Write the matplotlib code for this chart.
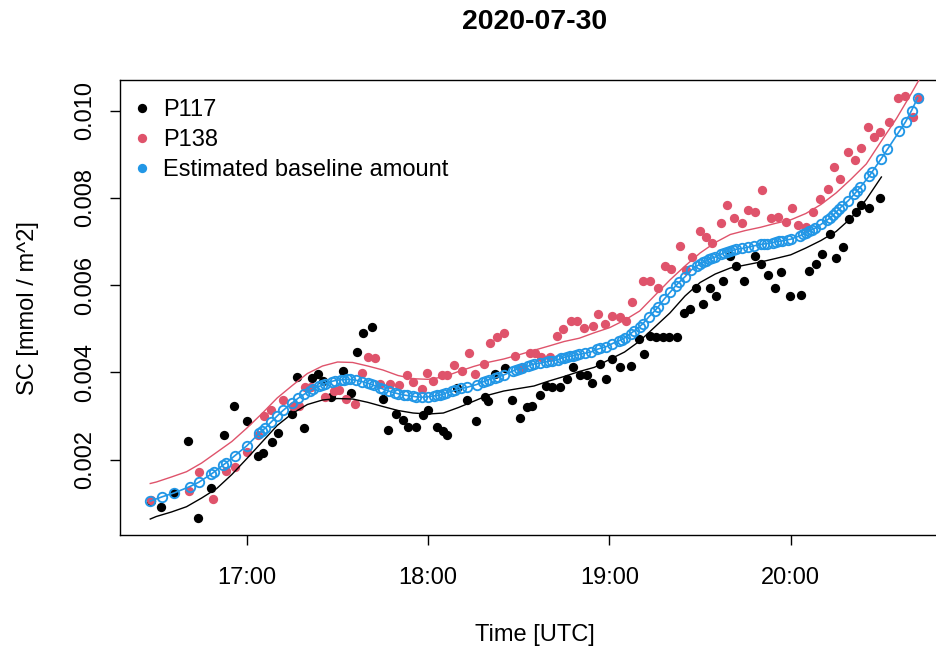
import matplotlib
matplotlib.use("Agg")
import matplotlib.pyplot as plt
import matplotlib.dates as mdates
from matplotlib.lines import Line2D
import pandas as pd

DAY = "2020-07-30"

# station P117 observations
p117_time = [
    "16:28:08", "16:31:32", "16:35:51", "16:40:38", "16:43:53", "16:48:05", "16:52:23", "16:55:42",
    "16:59:54", "17:03:44", "17:05:17", "17:08:22", "17:10:22", "17:14:47", "17:16:43", "17:18:56",
    "17:21:40", "17:23:35", "17:25:09", "17:27:44", "17:31:52", "17:34:19", "17:36:18", "17:38:17",
    "17:41:16", "17:44:54", "17:46:45", "17:49:28", "17:51:31", "17:53:22", "17:55:55", "17:58:20",
    "17:59:59", "18:02:46", "18:04:57", "18:06:17", "18:09:23", "18:12:53", "18:15:46", "18:18:45",
    "18:19:50", "18:22:04", "18:25:22", "18:27:51", "18:30:20", "18:32:33", "18:34:12", "18:36:57",
    "18:38:50", "18:41:05", "18:43:34", "18:46:03", "18:47:46", "18:50:11", "18:52:30", "18:54:04",
    "18:56:58", "18:58:47", "19:01:00", "19:03:31", "19:07:10", "19:09:38", "19:11:26", "19:13:15",
    "19:15:26", "19:17:39", "19:19:48", "19:22:23", "19:24:36", "19:26:35", "19:28:40", "19:30:59",
    "19:33:26", "19:35:11", "19:37:36", "19:39:49", "19:41:48", "19:44:27", "19:48:19", "19:50:04",
    "19:52:29", "19:54:56", "19:56:41", "19:59:40", "20:03:32", "20:06:04", "20:08:16", "20:10:22",
    "20:12:55", "20:15:07", "20:17:13", "20:19:25", "20:21:31", "20:23:24", "20:26:02", "20:29:37",
]
p117_sc = [
    0.001063, 0.000920, 0.001235, 0.002420, 0.000669, 0.001357, 0.002571, 0.003229, 0.002885, 0.002076,
    0.002156, 0.002397, 0.002610, 0.003041, 0.003893, 0.002736, 0.003877, 0.003957, 0.003800, 0.003430,
    0.004031, 0.003520, 0.004473, 0.004895, 0.005046, 0.003382, 0.002679, 0.003045, 0.002908, 0.002741,
    0.002741, 0.003022, 0.003137, 0.002741, 0.002663, 0.002564, 0.003634, 0.003366, 0.002885, 0.003428,
    0.003350, 0.003962, 0.004111, 0.003355, 0.002958, 0.003213, 0.003233, 0.003481, 0.003694, 0.003671,
    0.003657, 0.003854, 0.004122, 0.003932, 0.003939, 0.003749, 0.004191, 0.003847, 0.004299, 0.004129,
    0.004152, 0.004757, 0.004420, 0.004840, 0.004803, 0.004803, 0.004817, 0.004817, 0.005367, 0.005447,
    0.005944, 0.005573, 0.005926, 0.005756, 0.006098, 0.006666, 0.006441, 0.006098, 0.006666, 0.006483,
    0.006231, 0.005926, 0.006306, 0.005756, 0.005765, 0.006329, 0.006476, 0.006707, 0.007165, 0.006613,
    0.006872, 0.007509, 0.007663, 0.007835, 0.007773, 0.008002,
]

# station P138 observations
p138_time = [
    "16:28:08", "16:40:43", "16:44:07", "16:48:39", "16:52:57", "16:56:02", "17:00:06", "17:03:32",
    "17:05:32", "17:07:53", "17:12:01", "17:15:19", "17:17:13", "17:19:11", "17:21:11", "17:25:58",
    "17:28:47", "17:30:37", "17:32:46", "17:35:44", "17:37:57", "17:40:08", "17:42:27", "17:44:01",
    "17:47:19", "17:50:17", "17:53:02", "17:55:02", "17:57:49", "17:59:40", "18:01:38", "18:04:25",
    "18:06:11", "18:08:29", "18:11:08", "18:13:22", "18:15:37", "18:18:19", "18:20:19", "18:22:37",
    "18:25:12", "18:28:47", "18:30:53", "18:33:32", "18:35:28", "18:37:23", "18:40:16", "18:42:34",
    "18:44:34", "18:47:07", "18:49:11", "18:51:37", "18:54:29", "18:56:22", "18:58:41", "19:01:00",
    "19:03:25", "19:05:20", "19:07:37", "19:11:08", "19:13:15", "19:16:06", "19:18:28", "19:20:14",
    "19:23:16", "19:25:25", "19:27:28", "19:30:07", "19:32:07", "19:34:05", "19:37:04", "19:39:04",
    "19:41:14", "19:43:47", "19:45:52", "19:48:05", "19:50:38", "19:53:37", "19:55:48", "19:58:35",
    "20:00:30", "20:02:33", "20:05:12", "20:07:23", "20:09:36", "20:12:20", "20:14:23", "20:16:23",
    "20:18:58", "20:21:11", "20:23:16", "20:25:43", "20:27:28", "20:29:37", "20:32:22", "20:35:38",
    "20:37:53", "20:40:28", "20:42:31",
]
p138_sc = [
    0.001075, 0.001276, 0.001723, 0.001093, 0.001746, 0.001838, 0.002170, 0.002564, 0.003000, 0.003130,
    0.003355, 0.003229, 0.003240, 0.003657, 0.003653, 0.003446, 0.003584, 0.003607, 0.003378, 0.003274,
    0.003992, 0.004358, 0.004340, 0.003733, 0.003733, 0.003721, 0.003939, 0.003786, 0.003611, 0.003978,
    0.003797, 0.003928, 0.003950, 0.004168, 0.004038, 0.004436, 0.003969, 0.004180, 0.004672, 0.004810,
    0.004913, 0.004374, 0.004093, 0.004436, 0.004450, 0.004358, 0.004345, 0.004833, 0.004989, 0.005176,
    0.005176, 0.005009, 0.005062, 0.005330, 0.005108, 0.005291, 0.005275, 0.005176, 0.005619, 0.006100,
    0.006100, 0.005926, 0.006441, 0.006368, 0.006895, 0.006345, 0.006632, 0.007232, 0.007094, 0.006964,
    0.007429, 0.007828, 0.007537, 0.007429, 0.007720, 0.007674, 0.008185, 0.007548, 0.007566, 0.007452,
    0.007766, 0.007376, 0.007337, 0.007663, 0.007965, 0.008197, 0.008705, 0.008426, 0.009060, 0.008877,
    0.009141, 0.009622, 0.009400, 0.009503, 0.009743, 0.010280, 0.010321, 0.009844, 0.010286,
]

# estimated baseline at the observation epochs
baseline_time = [
    "16:28", "16:32", "16:36", "16:41", "16:44", "16:48", "16:49", "16:52", "16:53", "16:56",
    "17:00", "17:04", "17:05", "17:06", "17:08", "17:10", "17:12", "17:15", "17:17", "17:19",
    "17:21", "17:22", "17:24", "17:25", "17:26", "17:28", "17:29", "17:31", "17:32", "17:33",
    "17:34", "17:36", "17:38", "17:40", "17:41", "17:42", "17:44", "17:45", "17:47", "17:49",
    "17:50", "17:52", "17:53", "17:55", "17:56", "17:58", "18:00", "18:02", "18:03", "18:04",
    "18:05", "18:06", "18:08", "18:09", "18:11", "18:13", "18:16", "18:18", "18:19", "18:20",
    "18:22", "18:23", "18:25", "18:28", "18:29", "18:30", "18:31", "18:33", "18:34", "18:35",
    "18:37", "18:39", "18:40", "18:41", "18:43", "18:44", "18:45", "18:46", "18:47", "18:48",
    "18:49", "18:50", "18:52", "18:54", "18:56", "18:57", "18:59", "19:01", "19:03", "19:04",
    "19:05", "19:07", "19:08", "19:10", "19:11", "19:13", "19:15", "19:16", "19:18", "19:20",
    "19:22", "19:23", "19:25", "19:27", "19:29", "19:30", "19:31", "19:32", "19:33", "19:34",
    "19:35", "19:37", "19:38", "19:39", "19:40", "19:41", "19:42", "19:44", "19:46", "19:48",
    "19:50", "19:51", "19:52", "19:54", "19:55", "19:56", "19:57", "19:59", "20:00", "20:03",
    "20:04", "20:05", "20:06", "20:07", "20:08", "20:10", "20:12", "20:13", "20:14", "20:15",
    "20:16", "20:17", "20:19", "20:21", "20:22", "20:23", "20:26", "20:27", "20:30", "20:32",
    "20:36", "20:38", "20:40", "20:42",
]
baseline_sc = [
    0.00105, 0.00115, 0.00124, 0.00138, 0.00148, 0.00166, 0.00171, 0.00187, 0.00192, 0.00209,
    0.00232, 0.00260, 0.00266, 0.00272, 0.00286, 0.00300, 0.00313, 0.00330, 0.00341, 0.00350,
    0.00358, 0.00362, 0.00368, 0.00371, 0.00374, 0.00379, 0.00381, 0.00383, 0.00383, 0.00384,
    0.00384, 0.00382, 0.00379, 0.00375, 0.00373, 0.00370, 0.00365, 0.00362, 0.00357, 0.00353,
    0.00351, 0.00348, 0.00347, 0.00345, 0.00344, 0.00343, 0.00344, 0.00346, 0.00347, 0.00348,
    0.00350, 0.00353, 0.00357, 0.00359, 0.00363, 0.00366, 0.00372, 0.00378, 0.00380, 0.00383,
    0.00387, 0.00389, 0.00394, 0.00403, 0.00406, 0.00408, 0.00409, 0.00414, 0.00417, 0.00419,
    0.00421, 0.00424, 0.00426, 0.00427, 0.00429, 0.00432, 0.00434, 0.00436, 0.00437, 0.00438,
    0.00440, 0.00441, 0.00444, 0.00447, 0.00453, 0.00455, 0.00459, 0.00466, 0.00472, 0.00475,
    0.00479, 0.00489, 0.00494, 0.00505, 0.00511, 0.00527, 0.00541, 0.00549, 0.00567, 0.00583,
    0.00599, 0.00606, 0.00619, 0.00634, 0.00644, 0.00648, 0.00652, 0.00655, 0.00659, 0.00662,
    0.00664, 0.00671, 0.00674, 0.00676, 0.00678, 0.00680, 0.00682, 0.00684, 0.00687, 0.00690,
    0.00693, 0.00694, 0.00695, 0.00697, 0.00699, 0.00700, 0.00701, 0.00704, 0.00705, 0.00713,
    0.00716, 0.00719, 0.00723, 0.00727, 0.00730, 0.00739, 0.00749, 0.00754, 0.00760, 0.00767,
    0.00774, 0.00781, 0.00793, 0.00808, 0.00816, 0.00824, 0.00850, 0.00860, 0.00890, 0.00911,
    0.00953, 0.00974, 0.01000, 0.01029,
]

# smoothed station curves
p117_fit_time = [
    "16:28", "16:30", "16:35", "16:40", "16:45", "16:50", "16:55", "17:00", "17:05", "17:10",
    "17:15", "17:20", "17:25", "17:30", "17:35", "17:40", "17:45", "17:50", "17:55", "18:00",
    "18:05", "18:10", "18:15", "18:20", "18:25", "18:30", "18:35", "18:40", "18:45", "18:50",
    "18:55", "19:00", "19:05", "19:10", "19:15", "19:20", "19:25", "19:30", "19:35", "19:40",
    "19:45", "19:50", "19:55", "20:00", "20:05", "20:10", "20:15", "20:20", "20:25", "20:30",
]
p117_fit_sc = [
    0.000639, 0.000697, 0.000800, 0.000921, 0.001120, 0.001338, 0.001659, 0.002026, 0.002404, 0.002782,
    0.003057, 0.003263, 0.003366, 0.003400, 0.003389, 0.003313, 0.003217, 0.003126, 0.003068, 0.003045,
    0.003068, 0.003194, 0.003336, 0.003481, 0.003572, 0.003630, 0.003687, 0.003802, 0.003905, 0.004019,
    0.004115, 0.004294, 0.004466, 0.004718, 0.005039, 0.005360, 0.005749, 0.006059, 0.006253, 0.006391,
    0.006460, 0.006528, 0.006609, 0.006693, 0.006849, 0.007021, 0.007227, 0.007537, 0.007961, 0.008476,
]
p138_fit_time = [
    "16:28", "16:30", "16:35", "16:40", "16:45", "16:50", "16:55", "17:00", "17:05", "17:10",
    "17:15", "17:20", "17:25", "17:30", "17:35", "17:40", "17:45", "17:50", "17:55", "18:00",
    "18:05", "18:10", "18:15", "18:20", "18:25", "18:30", "18:35", "18:40", "18:45", "18:50",
    "18:55", "19:00", "19:05", "19:10", "19:15", "19:20", "19:25", "19:30", "19:35", "19:40",
    "19:45", "19:50", "19:55", "20:00", "20:05", "20:10", "20:15", "20:20", "20:25", "20:30",
    "20:35", "20:40", "20:43",
]
p138_fit_sc = [
    0.001453, 0.001487, 0.001602, 0.001723, 0.001922, 0.002168, 0.002415, 0.002725, 0.003057, 0.003412,
    0.003698, 0.003973, 0.004145, 0.004237, 0.004226, 0.004145, 0.004054, 0.003928, 0.003854, 0.003840,
    0.003893, 0.004019, 0.004134, 0.004232, 0.004306, 0.004402, 0.004505, 0.004604, 0.004707, 0.004782,
    0.004908, 0.005023, 0.005195, 0.005406, 0.005761, 0.006116, 0.006437, 0.006735, 0.006975, 0.007159,
    0.007250, 0.007324, 0.007415, 0.007495, 0.007640, 0.007846, 0.008110, 0.008430, 0.008774, 0.009301,
    0.009817, 0.010401, 0.010768,
]

x_ticks = ["17:00", "18:00", "19:00", "20:00"]
y_ticks = [0.002, 0.004, 0.006, 0.008, 0.010]

BLACK = "#000000"
RED = "#DF536B"
BLUE = "#2297E6"


def to_num(times):
    return mdates.date2num(pd.to_datetime([DAY + " " + t for t in times]))


plt.rcParams["font.family"] = ["Liberation Sans", "DejaVu Sans"]

fig = plt.figure(figsize=(9.37, 6.52), dpi=100)
ax = fig.add_axes([120 / 937, 1 - 535 / 652, 830 / 937, 455 / 652])

ax.plot(to_num(p117_time), p117_sc, "o", color=BLACK, ms=6.7, mew=0, zorder=2)
ax.plot(to_num(p138_time), p138_sc, "o", color=RED, ms=6.7, mew=0, zorder=2)
ax.plot(to_num(p117_fit_time), p117_fit_sc, "-", color=BLACK, lw=1.0, zorder=3)
ax.plot(to_num(p138_fit_time), p138_fit_sc, "-", color=RED, lw=1.0, zorder=3)
ax.plot(to_num(baseline_time), baseline_sc, "-o", color=BLUE, lw=1.2,
        ms=6.8, mfc="none", mec=BLUE, mew=1.35, zorder=4)

ax.set_xlim(to_num(["16:17:59", "20:52:43"]))
ax.set_ylim(0.000273, 0.010699)

ax.set_xticks(to_num(x_ticks))
ax.xaxis.set_major_formatter(mdates.DateFormatter("%H:%M"))
ax.set_yticks(y_ticks)
ax.set_yticklabels([f"{v:.3f}" for v in y_ticks])
ax.tick_params(direction="out", length=7.2, width=1.0, labelsize=17, color=BLACK)
ax.tick_params(axis="x", pad=16)
ax.tick_params(axis="y", pad=10, labelrotation=90)
for lab in ax.get_yticklabels():
    lab.set_va("center")
for sp in ax.spines.values():
    sp.set_linewidth(1.0)

handles = [Line2D([], [], ls="none", marker="o", ms=6.7, mew=0, color=c) for c in (BLACK, RED, BLUE)]
ax.legend(handles, ["P117", "P138", "Estimated baseline amount"], loc="upper left",
          bbox_to_anchor=(0.0, 1.0 - 5 / 455), frameon=False, fontsize=17,
          handlelength=0.7, handletextpad=0.53, labelspacing=0.34,
          borderaxespad=0.2, borderpad=0.4)

fig.text(535 / 937, 1 - 22 / 652, "2020-07-30", ha="center", va="center",
         fontsize=20.4, fontweight="bold")
fig.text(535 / 937, 1 - 635 / 652, "Time [UTC]", ha="center", va="center", fontsize=17)
fig.text(28 / 937, 1 - 308 / 652, "SC [mmol / m^2]", ha="center", va="center",
         rotation=90, fontsize=17)

fig.savefig("out.png", dpi=100)
